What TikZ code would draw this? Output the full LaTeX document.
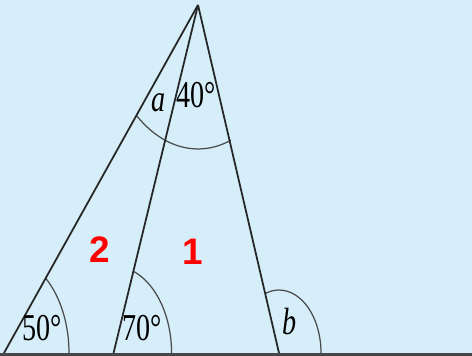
\documentclass[tikz,border=0pt]{standalone}
\usepackage{fontspec}
\usepackage{graphicx}
\setmainfont{Liberation Serif}
\newfontfamily\regfont{Liberation Sans}
\usetikzlibrary{calc}
\definecolor{skyback}{HTML}{D5EEFA}
\definecolor{inkline}{HTML}{262626}
\definecolor{arcgray}{HTML}{4A4A4A}
\tikzset{
  side/.style={line width=1pt, color=inkline},
  ground/.style={line width=2pt, color=inkline!85},
  angarc/.style={line width=0.7pt, color=arcgray},
  anglbl/.style={inner sep=0pt, font=\fontsize{16}{16}\selectfont},
  regnum/.style={inner sep=0pt, text=red, font=\regfont\bfseries\fontsize{21}{21}\selectfont}
}
\newcommand{\tall}[1]{\scalebox{1}[1.35]{#1}}

\begin{document}
\begin{tikzpicture}[x=0.02cm, y=0.02cm, yscale=1.5]
\fill[skyback] (0,-2) rectangle (472,235.33);
\useasboundingbox (0,-2) rectangle (472,235.33);
% corners of the triangles
\coordinate (P) at (198,232);
\coordinate (L) at (4,0);
\coordinate (M) at (113.56,0);
\coordinate (R) at (279,0);
\coordinate (G0) at (0,-0.9);
\coordinate (G1) at (472,-0.9);
% angle arcs
\draw[angarc] ($(L)+(65,0)$) arc[start angle=0, end angle=50, radius=1.3cm];
\draw[angarc] ($(M)+(58,0)$) arc[start angle=0, end angle=70, radius=1.16cm];
\draw[angarc] ($(R)+(42,0)$) arc[start angle=0, end angle=109.3, radius=0.84cm];
\draw[angarc] ($(P)+(230:96)$) arc[start angle=230, end angle=290, radius=1.92cm];
% sides
\draw[side] (P) -- (L);
\draw[side] (P) -- (M);
\draw[side] (P) -- (R);
\draw[ground] (G0) -- (G1);
% labels
\node[anglbl] (t50) at (42,16.7) {\tall{50°}};
\node[anglbl] (t70) at (142,16.7) {\tall{70°}};
\node[anglbl] (tb) at (290,21.3) {\tall{\itshape b}};
\node[anglbl] (ta) at (159,166.7) {\tall{\itshape a}};
\node[anglbl] (t40) at (196,172) {\tall{40°}};
\node[regnum] (n2) at (100,68.7) {2};
\node[regnum] (n1) at (193,67.3) {1};
\end{tikzpicture}
\end{document}
